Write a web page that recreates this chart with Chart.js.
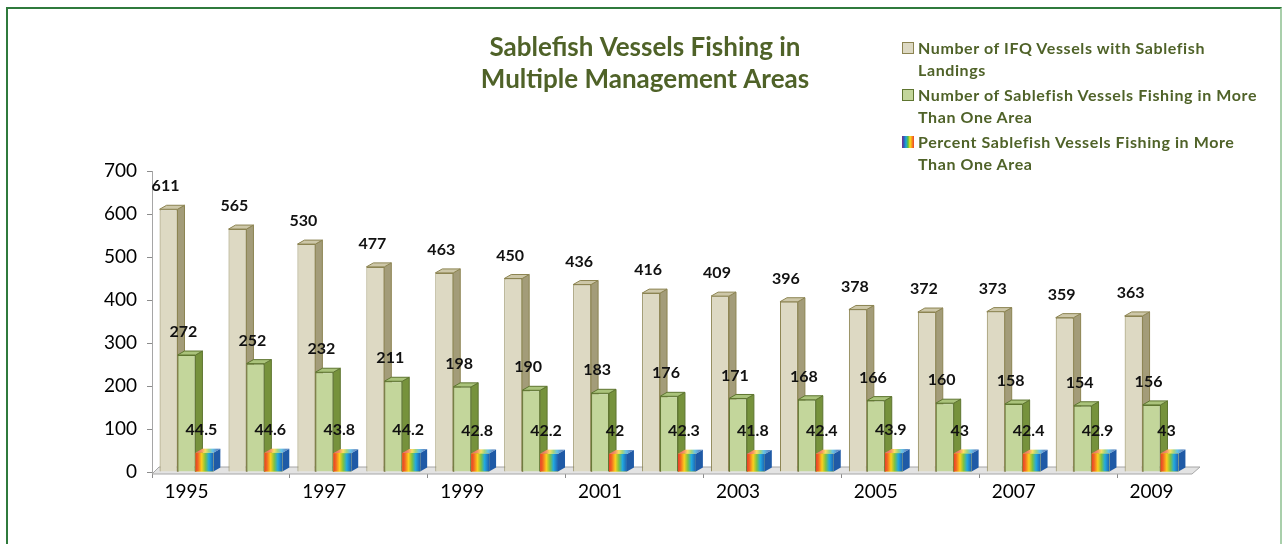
<!DOCTYPE html>
<html>
<head>
<meta charset="utf-8">
<title>Sablefish Vessels Fishing in Multiple Management Areas</title>
<script src="https://cdn.jsdelivr.net/npm/chart.js@4.4.1/dist/chart.umd.min.js"></script>
<style>
  html, body { margin: 0; padding: 0; background: #fff; }
  #wrap { position: relative; width: 1283px; height: 544px; overflow: hidden; }
  #frame {
    position: absolute; left: 6px; top: 7px; width: 1272px; height: 580px;
    border-top: 2px solid #2f7a3c; border-left: 2px solid #2f7a3c; border-right: 2px solid #a9cfab;
  }
  canvas { position: absolute; left: 0; top: 0; }
  #legend {
    position: absolute; left: 902px; top: 37px;
    font-family: Lato, "Open Sans", sans-serif; font-weight: bold; font-size: 16px;
    color: #4F6228; letter-spacing: 0.6px;
  }
  .item { display: flex; align-items: flex-start; margin-bottom: 3px; }
  .box { width: 10px; height: 10px; margin-top: 5px; margin-right: 4px; flex: none; }
  .txt { white-space: pre-line; line-height: 22px; }
</style>
</head>
<body>
<div id="wrap">
  <canvas id="vesselChart" width="1283" height="544"></canvas>
  <div id="frame"></div>
  <div id="legend"></div>
</div>
<script>
// データ
const years = ["1995", "1996", "1997", "1998", "1999", "2000", "2001", "2002",
  "2003", "2004", "2005", "2006", "2007", "2008", "2009"];
const ifqVessels = [611, 565, 530, 477, 463, 450, 436, 416, 409, 396, 378, 372, 373, 359, 363];
const multiAreaVessels = [272, 252, 232, 211, 198, 190, 183, 176, 171, 168, 166, 160, 158, 154, 156];
const multiAreaPercent = [44.5, 44.6, 43.8, 44.2, 42.8, 42.2, 42, 42.3, 41.8, 42.4, 43.9, 43, 42.4, 42.9, 43];
const yMin = 0;
const yMax = 700;
const yStep = 100;
const titleLines = ["Sablefish Vessels Fishing in", "Multiple Management Areas"];
const seriesLabels = [
  "Number of IFQ Vessels with Sablefish\nLandings",
  "Number of Sablefish Vessels Fishing in More\nThan One Area",
  "Percent Sablefish Vessels Fishing in More\nThan One Area",
];

// 3D風の面の色
const DX = 7, DY = -4;
const faces = [
  { side: "#A39C79", top: "#CDC7A8", edge: "#8C8452" },
  { side: "#76923C", top: "#AAC37B", edge: "#5E7530" },
  { side: "#1F5AA6", top: null, edge: null },
];

function rainbow(ctx, x0, x1) {
  const g = ctx.createLinearGradient(x0, 0, x1, 0);
  g.addColorStop(0, "#E53E2B");
  g.addColorStop(0.15, "#F26A21");
  g.addColorStop(0.35, "#FBD01D");
  g.addColorStop(0.55, "#7DC242");
  g.addColorStop(0.75, "#22A9E0");
  g.addColorStop(1, "#1F5FB0");
  return g;
}

function barEdges(bar) {
  return {
    l: bar.x - bar.width / 2,
    r: bar.x + bar.width / 2,
    t: bar.y,
    b: bar.base,
  };
}

const bar3d = {
  id: "bar3d",
  beforeDatasetsDraw(chart) {
    const ctx = chart.ctx;
    const { left, right, bottom } = chart.chartArea;
    ctx.save();
    // 床
    ctx.beginPath();
    ctx.moveTo(left, bottom + 2);
    ctx.lineTo(right + 6, bottom + 2);
    ctx.lineTo(right + 14, bottom - 5);
    ctx.lineTo(left + 7, bottom - 5);
    ctx.closePath();
    ctx.fillStyle = "#E3E3E3";
    ctx.fill();
    ctx.strokeStyle = "#A6A6A6";
    ctx.lineWidth = 1;
    ctx.stroke();

    // 側面と上面（正面はこの後ライブラリが描く）
    chart.data.datasets.forEach((ds, i) => {
      const f = faces[i];
      chart.getDatasetMeta(i).data.forEach((bar) => {
        const { l, r, t, b } = barEdges(bar);
        ctx.beginPath();
        ctx.moveTo(r, t);
        ctx.lineTo(r + DX, t + DY);
        ctx.lineTo(r + DX, b + DY);
        ctx.lineTo(r, b);
        ctx.closePath();
        ctx.fillStyle = f.side;
        ctx.fill();
        if (f.edge) { ctx.strokeStyle = f.edge; ctx.lineWidth = 1; ctx.stroke(); }

        ctx.beginPath();
        ctx.moveTo(l, t);
        ctx.lineTo(l + DX, t + DY);
        ctx.lineTo(r + DX, t + DY);
        ctx.lineTo(r, t);
        ctx.closePath();
        if (f.top) {
          ctx.fillStyle = f.top;
          ctx.fill();
          ctx.strokeStyle = f.edge; ctx.lineWidth = 1; ctx.stroke();
        } else {
          ctx.fillStyle = rainbow(ctx, l + DX / 2, r + DX / 2);
          ctx.fill();
          ctx.fillStyle = "rgba(255,255,255,0.3)";
          ctx.fill();
        }
      });
    });
    ctx.restore();
  },
  afterDatasetDraw(chart, args) {
    // 割合の棒は虹色のグラデーション
    if (args.index !== 2) return;
    const ctx = chart.ctx;
    ctx.save();
    args.meta.data.forEach((bar) => {
      const { l, r, t, b } = barEdges(bar);
      ctx.fillStyle = rainbow(ctx, l, r);
      ctx.fillRect(l, t, r - l, b - t);
    });
    ctx.restore();
  },
  afterDatasetsDraw(chart) {
    // 値ラベル
    const ctx = chart.ctx;
    ctx.save();
    ctx.font = "bold 16px Lato";
    ctx.fillStyle = "#111";
    ctx.textAlign = "center";
    ctx.textBaseline = "middle";
    chart.data.datasets.forEach((ds, i) => {
      chart.getDatasetMeta(i).data.forEach((bar, j) => {
        ctx.fillText(String(ds.data[j]), bar.x - 3, bar.y - 23);
      });
    });
    ctx.restore();
  },
};

const ctx = document.getElementById("vesselChart").getContext("2d");
const chart = new Chart(ctx, {
  type: "bar",
  data: {
    labels: years,
    datasets: [
      {
        label: seriesLabels[0],
        data: ifqVessels,
        backgroundColor: "#DDD9C3",
        borderColor: "#8C8452",
        borderWidth: 1,
      },
      {
        label: seriesLabels[1],
        data: multiAreaVessels,
        backgroundColor: "#C3D69B",
        borderColor: "#5E7530",
        borderWidth: 1,
      },
      {
        label: seriesLabels[2],
        data: multiAreaPercent,
        backgroundColor: "#F9E21B",
        borderWidth: 0,
      },
    ],
  },
  options: {
    responsive: false,
    animation: false,
    devicePixelRatio: 1,
    categoryPercentage: 0.78,
    barPercentage: 1.0,
    layout: { padding: { left: 104, right: 97, top: 0, bottom: 0 } },
    scales: {
      x: {
        offset: true,
        afterFit: (s) => { s.height = 72; },
        border: { display: false },
        grid: {
          offset: true,
          drawOnChartArea: false,
          tickLength: 6,
          color: (c) => (c.index % 2 === 0 ? "#8C8C8C" : "rgba(0,0,0,0)"),
        },
        ticks: {
          autoSkip: false,
          maxRotation: 0,
          padding: 2,
          color: "#000",
          font: { family: "Lato", size: 19 },
          callback: (v, i) => (i % 2 === 0 ? years[i] : ""),
        },
      },
      y: {
        min: yMin,
        max: yMax,
        afterFit: (s) => { s.width = 48; },
        border: { display: true, color: "#A6A6A6" },
        grid: { drawOnChartArea: false, tickLength: 5, color: "#8C8C8C" },
        ticks: {
          stepSize: yStep,
          padding: 10,
          color: "#000",
          font: { family: "Lato", size: 19 },
        },
      },
    },
    plugins: {
      legend: { display: false },
      tooltip: { enabled: false },
      title: {
        display: true,
        text: titleLines,
        color: "#4F6228",
        font: { family: "Lato", size: 26, weight: "bold", lineHeight: "32px" },
        padding: { top: 32, bottom: 75 },
      },
    },
  },
  plugins: [bar3d],
});

// 凡例（HTML）
const legendBoxes = [
  "background:#DDD9C3;border:1px solid #8C8452;",
  "background:#C3D69B;border:1px solid #5E7530;",
  "width:12px;height:12px;background:linear-gradient(to right,#7B2D8E,#2E5FB5,#1CA6DF,#55B947,#F9E21B,#F7901E,#E8412C);",
];
const legendDiv = document.getElementById("legend");
legendDiv.innerHTML = chart.data.datasets
  .map((ds, i) => `<div class="item"><div class="box" style="${legendBoxes[i]}"></div><div class="txt">${ds.label}</div></div>`)
  .join("");
</script>
</body>
</html>
